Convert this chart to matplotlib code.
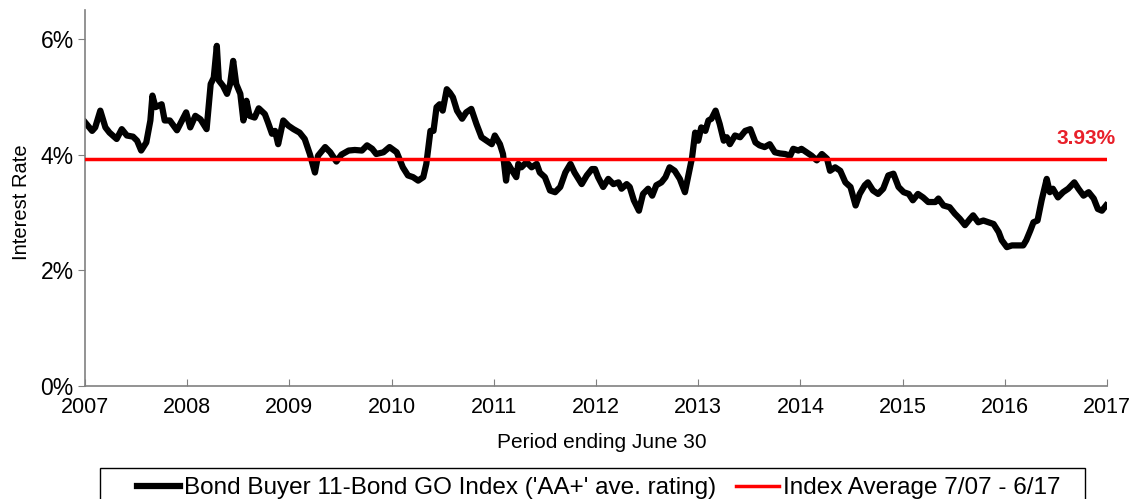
import numpy as np
import matplotlib.pyplot as plt
from matplotlib.ticker import FuncFormatter
from matplotlib.patches import Rectangle

plt.rcParams['font.family'] = ['Liberation Sans', 'DejaVu Sans']

# Bond Buyer 11-Bond GO Index (decimal year, percent)
years = [
    2007.00, 2007.07, 2007.10, 2007.15, 2007.20, 2007.24, 2007.31, 2007.36, 2007.41, 2007.47,
    2007.51, 2007.55, 2007.60, 2007.64, 2007.66, 2007.69, 2007.75, 2007.78, 2007.83, 2007.90,
    2007.95, 2007.99, 2008.03, 2008.08, 2008.13, 2008.19, 2008.23, 2008.26, 2008.29, 2008.31,
    2008.35, 2008.39, 2008.42, 2008.45, 2008.48, 2008.52, 2008.55, 2008.58, 2008.61, 2008.66,
    2008.70, 2008.76, 2008.79, 2008.83, 2008.86, 2008.89, 2008.94, 2008.99, 2009.04, 2009.10,
    2009.15, 2009.20, 2009.25, 2009.28, 2009.35, 2009.40, 2009.46, 2009.51, 2009.58, 2009.64,
    2009.71, 2009.76, 2009.81, 2009.85, 2009.92, 2009.98, 2010.05, 2010.11, 2010.16, 2010.21,
    2010.26, 2010.31, 2010.34, 2010.38, 2010.41, 2010.44, 2010.47, 2010.50, 2010.54, 2010.57,
    2010.60, 2010.64, 2010.69, 2010.73, 2010.78, 2010.83, 2010.88, 2010.93, 2010.98, 2011.01,
    2011.06, 2011.09, 2011.12, 2011.14, 2011.18, 2011.22, 2011.24, 2011.27, 2011.32, 2011.37,
    2011.42, 2011.45, 2011.50, 2011.55, 2011.60, 2011.65, 2011.70, 2011.75, 2011.79, 2011.86,
    2011.91, 2011.96, 2011.99, 2012.02, 2012.07, 2012.12, 2012.17, 2012.22, 2012.25, 2012.30,
    2012.33, 2012.37, 2012.42, 2012.46, 2012.51, 2012.55, 2012.59, 2012.64, 2012.68, 2012.72,
    2012.77, 2012.82, 2012.87, 2012.90, 2012.94, 2012.97, 2013.00, 2013.03, 2013.07, 2013.10,
    2013.13, 2013.17, 2013.21, 2013.25, 2013.28, 2013.31, 2013.36, 2013.41, 2013.46, 2013.51,
    2013.56, 2013.60, 2013.65, 2013.70, 2013.75, 2013.80, 2013.85, 2013.90, 2013.93, 2013.98,
    2014.01, 2014.06, 2014.11, 2014.16, 2014.21, 2014.26, 2014.29, 2014.34, 2014.39, 2014.44,
    2014.49, 2014.54, 2014.58, 2014.63, 2014.66, 2014.71, 2014.76, 2014.81, 2014.86, 2014.91,
    2014.96, 2015.01, 2015.06, 2015.10, 2015.15, 2015.20, 2015.25, 2015.32, 2015.35, 2015.40,
    2015.46, 2015.51, 2015.56, 2015.61, 2015.66, 2015.69, 2015.74, 2015.79, 2015.84, 2015.89,
    2015.94, 2015.97, 2016.02, 2016.07, 2016.12, 2016.18, 2016.21, 2016.25, 2016.28, 2016.32,
    2016.36, 2016.41, 2016.44, 2016.47, 2016.52, 2016.57, 2016.62, 2016.68, 2016.72, 2016.77,
    2016.82, 2016.87, 2016.91, 2016.95, 2016.99,
]
rates = [
    4.56, 4.41, 4.47, 4.76, 4.47, 4.38, 4.27, 4.44, 4.33, 4.31,
    4.24, 4.07, 4.21, 4.59, 5.02, 4.82, 4.87, 4.59, 4.59, 4.42,
    4.59, 4.73, 4.47, 4.67, 4.61, 4.44, 5.22, 5.33, 5.88, 5.28,
    5.19, 5.05, 5.22, 5.62, 5.22, 5.05, 4.59, 4.93, 4.67, 4.64,
    4.80, 4.70, 4.56, 4.36, 4.41, 4.18, 4.59, 4.50, 4.44, 4.38,
    4.27, 4.01, 3.69, 3.98, 4.13, 4.04, 3.88, 4.00, 4.07, 4.08,
    4.07, 4.16, 4.10, 4.01, 4.04, 4.13, 4.04, 3.78, 3.64, 3.61,
    3.55, 3.61, 3.84, 4.41, 4.41, 4.82, 4.87, 4.76, 5.13, 5.07,
    4.99, 4.76, 4.62, 4.73, 4.79, 4.53, 4.30, 4.24, 4.18, 4.33,
    4.18, 4.01, 3.55, 3.84, 3.72, 3.61, 3.84, 3.78, 3.87, 3.78,
    3.84, 3.69, 3.61, 3.38, 3.35, 3.44, 3.69, 3.84, 3.69, 3.49,
    3.64, 3.75, 3.75, 3.61, 3.44, 3.58, 3.49, 3.52, 3.41, 3.49,
    3.44, 3.21, 3.03, 3.32, 3.41, 3.29, 3.47, 3.52, 3.61, 3.78,
    3.72, 3.58, 3.35, 3.61, 3.95, 4.38, 4.24, 4.47, 4.41, 4.59,
    4.62, 4.76, 4.53, 4.24, 4.30, 4.18, 4.33, 4.30, 4.41, 4.44,
    4.21, 4.16, 4.13, 4.18, 4.04, 4.02, 4.01, 3.98, 4.10, 4.07,
    4.10, 4.04, 3.98, 3.90, 4.01, 3.93, 3.72, 3.78, 3.72, 3.52,
    3.44, 3.12, 3.32, 3.47, 3.52, 3.38, 3.32, 3.41, 3.64, 3.67,
    3.44, 3.35, 3.32, 3.21, 3.32, 3.26, 3.18, 3.18, 3.24, 3.12,
    3.09, 2.98, 2.89, 2.78, 2.89, 2.95, 2.83, 2.86, 2.83, 2.80,
    2.66, 2.52, 2.40, 2.43, 2.43, 2.43, 2.52, 2.69, 2.83, 2.86,
    3.21, 3.58, 3.35, 3.41, 3.26, 3.35, 3.41, 3.52, 3.41, 3.29,
    3.35, 3.24, 3.06, 3.03, 3.12,
]

avg_rate = 3.93
avg_span = [2007, 2017]
year_ticks = list(range(2007, 2018))
pct_ticks = [0, 2, 4, 6]

fig = plt.figure(figsize=(11.36, 4.99), dpi=100)
ax = fig.add_axes([0.0748, 0.2265, 0.8997, 0.7535])

ax.plot(years, rates, color='black', lw=4.5, solid_joinstyle='round',
        label="Bond Buyer 11-Bond GO Index ('AA+' ave. rating)", zorder=2)
ax.plot(avg_span, [avg_rate, avg_rate], color='#ff0000', lw=2.5,
        label='Index Average 7/07 - 6/17', zorder=3)
ax.text(avg_span[1] + 0.08, avg_rate + 0.19, f'{avg_rate:.2f}%', color='#e8202a',
        fontsize=15, fontweight='bold', ha='right', va='bottom')

ax.set_xlim(2007, 2017)
ax.set_ylim(0, 6.5)
ax.set_xticks(year_ticks)
ax.set_yticks(pct_ticks)
ax.yaxis.set_major_formatter(FuncFormatter(lambda v, p: f'{v:.0f}%'))

for s in ['top', 'right']:
    ax.spines[s].set_visible(False)
for s in ['left', 'bottom']:
    ax.spines[s].set_color('#808080')
    ax.spines[s].set_linewidth(1.2)
ax.tick_params(axis='x', direction='in', length=5, color='#808080', labelsize=15.5, pad=8)
ax.tick_params(axis='y', direction='out', length=5, color='#808080', labelsize=16.5, pad=3)

ax.set_ylabel('Interest Rate', fontsize=14.5)
ax.yaxis.set_label_coords(-0.053, 0.49)
ax.set_xlabel('Period ending June 30', fontsize=15)
ax.xaxis.set_label_coords(0.506, -0.124)

# legend without its own frame; the wider Excel-style box is drawn separately
leg = fig.legend(loc='upper center', bbox_to_anchor=(0.527, 0.058), ncol=2,
                 fontsize=17.5, frameon=False,
                 handlelength=1.8, handletextpad=0.15, columnspacing=0.8,
                 borderpad=0.3, borderaxespad=0)
fig.add_artist(Rectangle((100 / 1136, -0.02), 985 / 1136, 31 / 499 + 0.02,
                         transform=fig.transFigure, fill=False,
                         edgecolor='black', linewidth=1.0))

fig.savefig('out.png', dpi=100)
